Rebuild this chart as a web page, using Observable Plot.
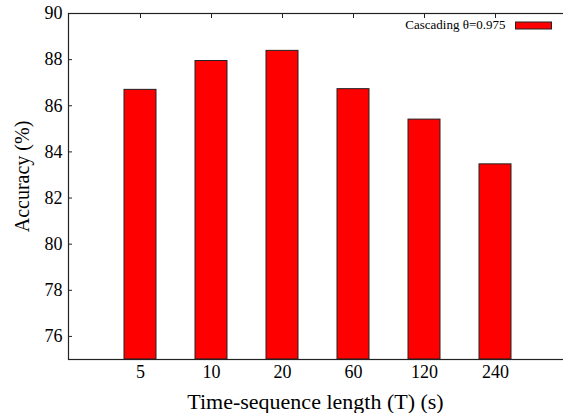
<!DOCTYPE html>
<html>
<head>
<meta charset="utf-8">
<script src="https://cdn.jsdelivr.net/npm/d3@7"></script>
<script src="https://cdn.jsdelivr.net/npm/@observablehq/plot@0.6"></script>
<style>
  html, body { margin: 0; padding: 0; background: white; overflow: hidden; }
  #chart svg { display: block; }
</style>
</head>
<body>
<div id="chart"></div>
<script>
const categories = ["5", "10", "20", "60", "120", "240"];
const accuracy = [86.69, 87.94, 88.38, 86.72, 85.40, 83.46];
const yTicks = [76, 78, 80, 82, 84, 86, 88, 90];
const yDomain = [75, 90];
const seriesLabel = "Cascading θ=0.975";
const xTitle = "Time-sequence length (T) (s)";
const yTitle = "Accuracy (%)";

const data = categories.map((c, i) => ({T: c, acc: accuracy[i]}));
const ink = "#222";

const chart = Plot.plot({
  width: 563,
  height: 413,
  marginLeft: 68,
  marginTop: 13,
  marginBottom: 54,
  marginRight: -3,
  style: {fontFamily: "'Liberation Serif', serif", fontSize: "17px", background: "white", color: "black"},
  x: {type: "band", domain: categories, paddingInner: 0.55, paddingOuter: 0.775},
  y: {domain: yDomain},
  marks: [
    Plot.barY(data, {x: "T", y1: () => yDomain[0], y2: "acc", fill: "#ff0000", stroke: ink, strokeWidth: 1}),
    Plot.frame({stroke: ink, strokeWidth: 1.2}),
    Plot.axisY({anchor: "left", ticks: yTicks, tickSize: -4, tickPadding: 10, stroke: ink,
      label: null, fontSize: 18}),
    Plot.axisY({anchor: "right", ticks: yTicks, tickSize: -4, tickFormat: () => "", stroke: ink, label: null}),
    Plot.axisX({anchor: "bottom", tickSize: 0, tickPadding: 6, label: null, fontSize: 18}),
    Plot.axisX({anchor: "top", tickSize: -4, tickFormat: () => "", stroke: ink, label: null}),
    Plot.text([xTitle], {text: d => d, frameAnchor: "bottom", textAnchor: "middle", lineAnchor: "middle",
      dx: -2, dy: 42, fontSize: 22}),
    Plot.text([yTitle], {text: d => d, frameAnchor: "left", textAnchor: "middle", lineAnchor: "middle",
      rotate: -90, dx: -46, dy: -10, fontSize: 20}),
    Plot.text([seriesLabel], {text: d => d, frameAnchor: "top-right", textAnchor: "end", lineAnchor: "middle",
      dx: -61, dy: 11, fontSize: 13}),
    Plot.frame({fill: "#ff0000", stroke: ink, strokeWidth: 1, insetLeft: 447, insetRight: 15, insetTop: 8.5, insetBottom: 330.5})
  ]
});
document.getElementById("chart").appendChild(chart);
</script>
</body>
</html>
